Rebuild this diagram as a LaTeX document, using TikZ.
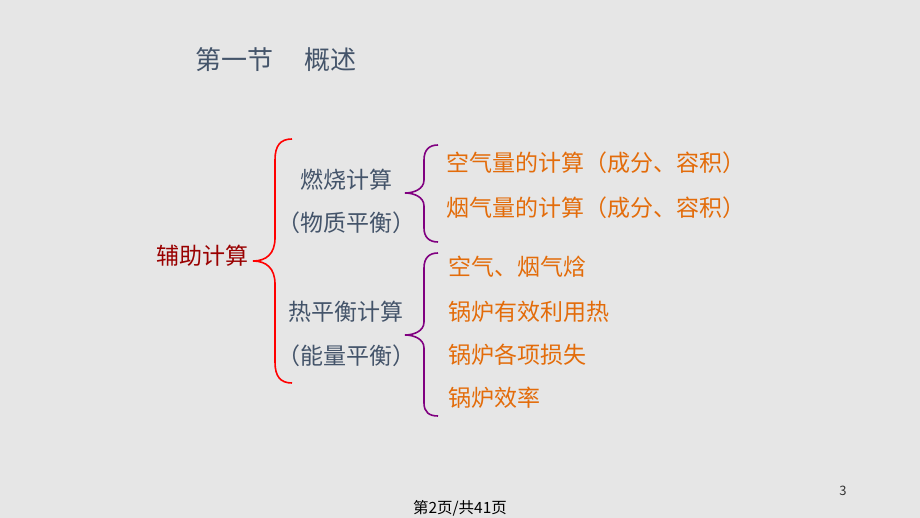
\documentclass[tikz,border=0pt]{standalone}
\usepackage{fontspec}
\setmainfont{Noto Sans CJK SC}
\definecolor{slidebg}{HTML}{E6E6E6}
\definecolor{slate}{HTML}{44546A}
\definecolor{darkred}{HTML}{990000}
\definecolor{itemorange}{HTML}{E36C0A}
\definecolor{bracepurple}{HTML}{800080}

\begin{document}
\begin{tikzpicture}[x=1pt,y=-1pt,
    heading/.style ={inner sep=0pt, text=slate, font=\fontsize{26}{30}\selectfont},
    root/.style ={inner sep=0pt, text=darkred, font=\fontsize{23}{27}\selectfont},
    branch/.style ={inner sep=0pt, text=slate, font=\fontsize{23}{27}\selectfont},
    leaf/.style ={anchor=west, inner sep=0pt, text=itemorange, font=\fontsize{23}{27}\selectfont},
    outerbrace/.style ={draw=red, line width=1.6pt},
    innerbrace/.style ={draw=bracepurple, line width=1.6pt}]
   \fill[slidebg] (0,0) rectangle (920,518);
   \useasboundingbox (0,0) rectangle (920,518);

   \node[heading] (T) at (276,60) {第一节\hspace{1.2em}概述};

   \node[root] (R) at (202,256) {辅助计算};

   \node[branch] (B1) at (346,180) {燃烧计算};
   \node[branch] (B1s) at (346,223) {（物质平衡）};
   \node[branch] (B2) at (346,312) {热平衡计算};
   \node[branch] (B2s) at (346,356) {（能量平衡）};

   \node[leaf] (L1) at (446,163) {空气量的计算（成分、容积）};
   \node[leaf] (L2) at (446,208) {烟气量的计算（成分、容积）};
   \node[leaf] (L3) at (448,267) {空气、烟气焓};
   \node[leaf] (L4) at (448,312) {锅炉有效利用热};
   \node[leaf] (L5) at (448,355) {锅炉各项损失};
   \node[leaf] (L6) at (448,398) {锅炉效率};

   \node[inner sep=0pt, text=black, font=\fontsize{15.5}{18}\selectfont] (F) at (460,508) {第2页/共41页};
   \node[inner sep=0pt, text=black!80, font=\fontsize{13}{15}\selectfont] (P) at (843,491) {3};

   % brace tips and ends
   \coordinate (rtip) at (253,261);
   \coordinate (rtop) at (292,139);
   \coordinate (rbot) at (292,383);
   \coordinate (atip) at (405,193);
   \coordinate (atop) at (438,145);
   \coordinate (abot) at (438,242);
   \coordinate (btip) at (405,335);
   \coordinate (btop) at (438,253);
   \coordinate (bbot) at (438,416);

   \draw[outerbrace] (rtop) .. controls (280,139) and (275,146) .. (275,160) -- (275,238)
      .. controls (275,254) and (266,261) .. (rtip)
      .. controls (266,261) and (275,268) .. (275,284) -- (275,362)
      .. controls (275,376) and (280,383) .. (rbot);
   \draw[innerbrace] (atop) .. controls (429,145) and (424,150) .. (424,160) -- (424,180)
      .. controls (424,189) and (414,193) .. (atip)
      .. controls (414,193) and (424,197) .. (424,206) -- (424,228)
      .. controls (424,237) and (429,242) .. (abot);
   \draw[innerbrace] (btop) .. controls (429,253) and (424,258) .. (424,268) -- (424,322)
      .. controls (424,331) and (414,335) .. (btip)
      .. controls (414,335) and (424,339) .. (424,348) -- (424,403)
      .. controls (424,412) and (429,416) .. (bbot);
 \end{tikzpicture}
\end{document}
